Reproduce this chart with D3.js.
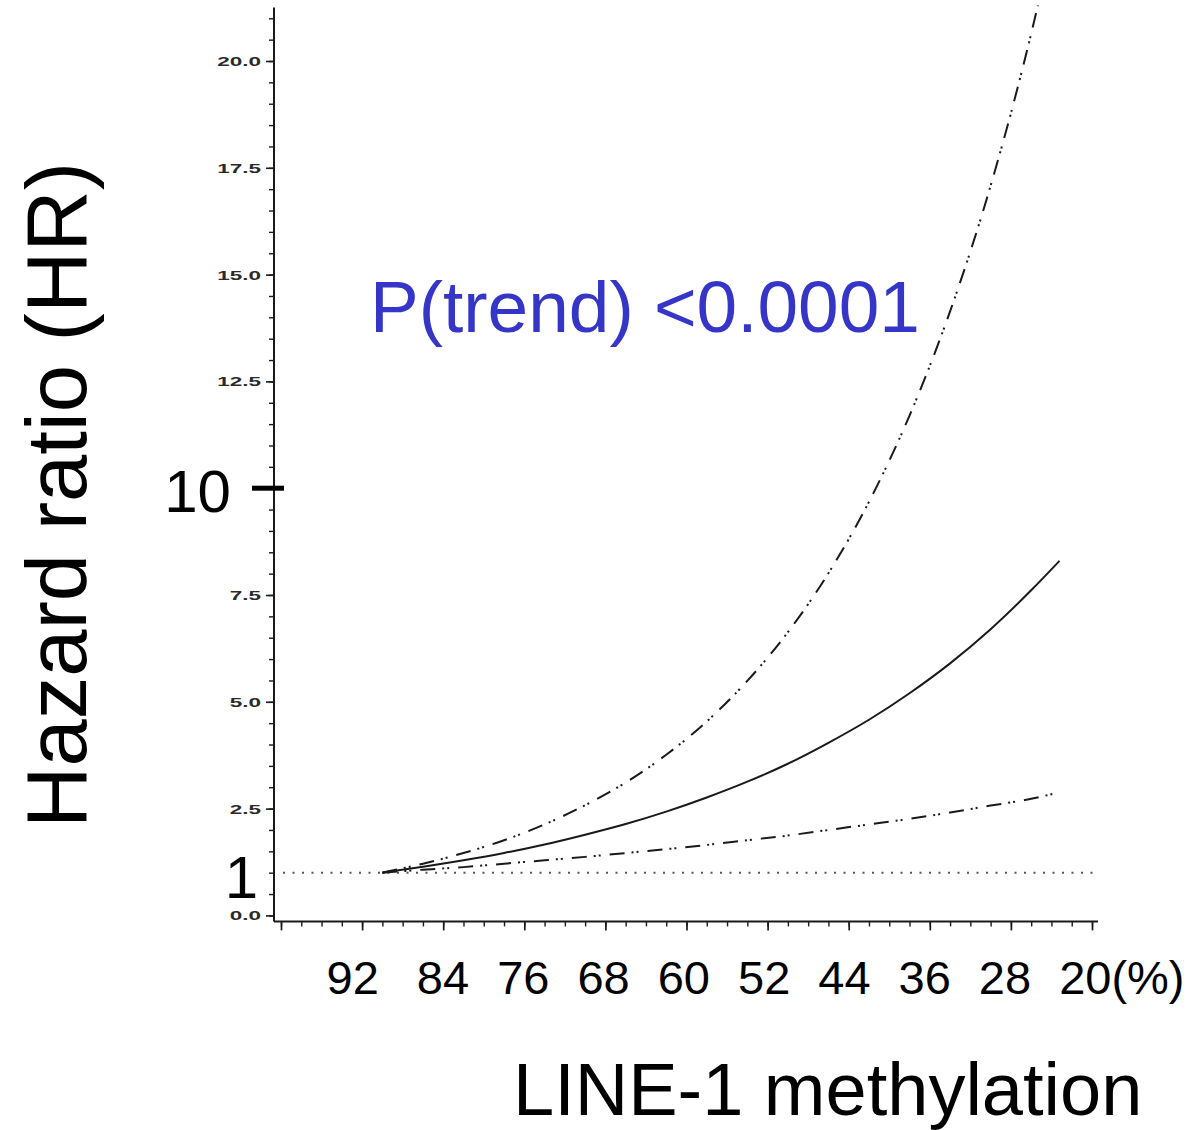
<!DOCTYPE html>
<html><head><meta charset="utf-8">
<script src="https://cdn.jsdelivr.net/npm/d3@7"></script>
<style>body{margin:0;background:#fff}svg{display:block}</style>
</head><body><svg id="chart" width="1186" height="1130"></svg>
<script>
// ---- data ----
const methylationHR = [90, 86, 82, 78, 74, 70, 66, 62, 58, 54, 50, 46, 42, 38, 34, 30, 26, 23.2];
const hrEstimate    = [1.00, 1.14, 1.29, 1.46, 1.66, 1.89, 2.14, 2.43, 2.76, 3.13, 3.55, 4.04, 4.58, 5.20, 5.90, 6.70, 7.61, 8.30];
const methylationUpper = [90, 86, 82, 78, 74, 70, 66, 62, 58, 54, 50, 46, 42, 38, 34, 30, 26, 24];
const hrUpper       = [1.00, 1.21, 1.46, 1.76, 2.13, 2.58, 3.11, 3.76, 4.54, 5.49, 6.63, 8.01, 9.68, 11.70, 14.14, 17.08, 20.64, 22.69];
const methylationLower = [90, 86, 82, 78, 74, 70, 66, 62, 58, 54, 50, 46, 42, 38, 34, 30, 26, 23.4];
const hrLower       = [1.00, 1.07, 1.13, 1.21, 1.29, 1.37, 1.46, 1.55, 1.65, 1.76, 1.87, 2.00, 2.13, 2.26, 2.41, 2.57, 2.73, 2.87];
const referenceHR = 1;
const yMajorTicks = [0, 2.5, 5, 7.5, 12.5, 15, 17.5, 20];
const yMinorTicks = d3.range(0, 21.01, 0.5);
const xMajorTicks = [100, 92, 84, 76, 68, 60, 52, 44, 36, 28, 20];
const xMinorTicks = d3.range(20, 100.01, 2);
const xTickLabels = ["92", "84", "76", "68", "60", "52", "44", "36", "28", "20"];
const xLabelValues = [92, 84, 76, 68, 60, 52, 44, 36, 28, 20];
const yTitle = "Hazard ratio (HR)";
const xTitle = "LINE-1 methylation";
const annotation = "P(trend) <0.0001";

// ---- scales ----
const svg = d3.select("#chart");
const x = d3.scaleLinear().domain([100, 20]).range([281, 1092]);
const y = d3.scaleLinear().domain([0, 21.25]).range([915.4, 7.6]);
const labelX = d3.scaleLinear().domain([84, 28]).range([443, 1005]);
const axisX0 = x(100) - 7, axisX1 = x(20) + 6;
const axisY = y(0) + 6;
const font = "'Liberation Sans', Arial, Helvetica, sans-serif";
const ink = "#1a1a1a";

// ---- y axis ----
const gy = svg.append("g").attr("transform", `translate(${axisX0},0)`);
gy.append("g").call(d3.axisLeft(y).tickValues(yMinorTicks).tickSize(5).tickFormat(""))
  .call(g => g.select(".domain").remove())
  .selectAll("line").attr("stroke", ink).attr("stroke-width", 1.4);
const yMaj = gy.append("g").call(d3.axisLeft(y).tickValues(yMajorTicks).tickSize(8).tickFormat(d3.format(".1f")));
yMaj.select(".domain").remove();
yMaj.selectAll("line").attr("stroke", ink).attr("stroke-width", 1.6);
yMaj.selectAll("text")
  .attr("x", null).attr("dy", "0.36em")
  .attr("transform", "translate(-13,0) scale(1.8,1)")
  .attr("text-anchor", "end")
  .attr("font-family", font).attr("font-size", 12.5).attr("font-weight", "bold").attr("fill", "#2a2a2a");
gy.append("line").attr("x1", 0).attr("x2", 0).attr("y1", y.range()[1]).attr("y2", axisY)
  .attr("stroke", ink).attr("stroke-width", 2);

// ---- x axis ----
const gx = svg.append("g").attr("transform", `translate(0,${axisY})`);
gx.append("g").call(d3.axisBottom(x).tickValues(xMinorTicks).tickSize(5).tickFormat(""))
  .call(g => g.select(".domain").remove())
  .selectAll("line").attr("stroke", ink).attr("stroke-width", 1.4);
gx.append("g").call(d3.axisBottom(x).tickValues(xMajorTicks).tickSize(9).tickFormat(""))
  .call(g => g.select(".domain").remove())
  .selectAll("line").attr("stroke", ink).attr("stroke-width", 1.7);
gx.append("line").attr("x1", axisX0).attr("x2", axisX1).attr("y1", 0).attr("y2", 0)
  .attr("stroke", ink).attr("stroke-width", 2);

// x tick labels (overlaid large text)
xLabelValues.forEach((v, i) => {
  const t = svg.append("text")
    .attr("y", 994).attr("font-family", font).attr("font-size", 47).attr("fill", "#000");
  const pos = labelX(v) + (i === 0 ? -10 : 0);
  if (v === 20) {
    const a = t.append("tspan").text(xTickLabels[i]);
    t.append("tspan").text("(%)");
    const w = a.node().getComputedTextLength();
    t.attr("x", pos - w / 2).attr("text-anchor", "start");
  } else {
    t.attr("x", pos).attr("text-anchor", "middle").text(xTickLabels[i]);
  }
});

// ---- clip ----
svg.append("clipPath").attr("id", "plotClip").append("rect")
  .attr("x", axisX0).attr("y", y.range()[1] - 2).attr("width", axisX1 - axisX0).attr("height", axisY - y.range()[1]);
const plot = svg.append("g").attr("clip-path", "url(#plotClip)");

// reference line HR = 1
plot.append("line")
  .attr("x1", axisX0 + 9).attr("x2", axisX1).attr("y1", y(referenceHR)).attr("y2", y(referenceHR))
  .attr("stroke", "#555").attr("stroke-width", 2).attr("stroke-dasharray", "2,7.5");

const line = d3.line().x(d => x(d[0])).y(d => y(d[1])).curve(d3.curveMonotoneX);
const ciDash = "15,7,2,3,2,9";
plot.append("path").datum(d3.zip(methylationUpper, hrUpper))
  .attr("d", line).attr("fill", "none").attr("stroke", ink).attr("stroke-width", 2).attr("stroke-dasharray", ciDash);
plot.append("path").datum(d3.zip(methylationLower, hrLower))
  .attr("d", line).attr("fill", "none").attr("stroke", ink).attr("stroke-width", 2).attr("stroke-dasharray", ciDash);
plot.append("path").datum(d3.zip(methylationHR, hrEstimate))
  .attr("d", line).attr("fill", "none").attr("stroke", ink).attr("stroke-width", 2);

// ---- overlaid labels ----
svg.append("line").attr("x1", 252).attr("x2", 284).attr("y1", y(10)).attr("y2", y(10))
  .attr("stroke", "#000").attr("stroke-width", 5);
svg.append("text").attr("x", 231).attr("y", y(10) + 24).attr("text-anchor", "end")
  .attr("font-family", font).attr("font-size", 60).attr("fill", "#000").text("10");
svg.append("text").attr("x", 258).attr("y", y(1) + 25).attr("text-anchor", "end")
  .attr("font-family", font).attr("font-size", 60).attr("fill", "#000").text("1");

svg.append("text").attr("transform", "translate(86,495) rotate(-90)")
  .attr("text-anchor", "middle").attr("font-family", font).attr("font-size", 85).attr("fill", "#000").text(yTitle);
svg.append("text").attr("x", 513).attr("y", 1115)
  .attr("font-family", font).attr("font-size", 74).attr("fill", "#000").text(xTitle);
svg.append("text").attr("x", 370).attr("y", 332)
  .attr("font-family", font).attr("font-size", 73).attr("fill", "#3535C8").text(annotation);
</script>
</body></html>
